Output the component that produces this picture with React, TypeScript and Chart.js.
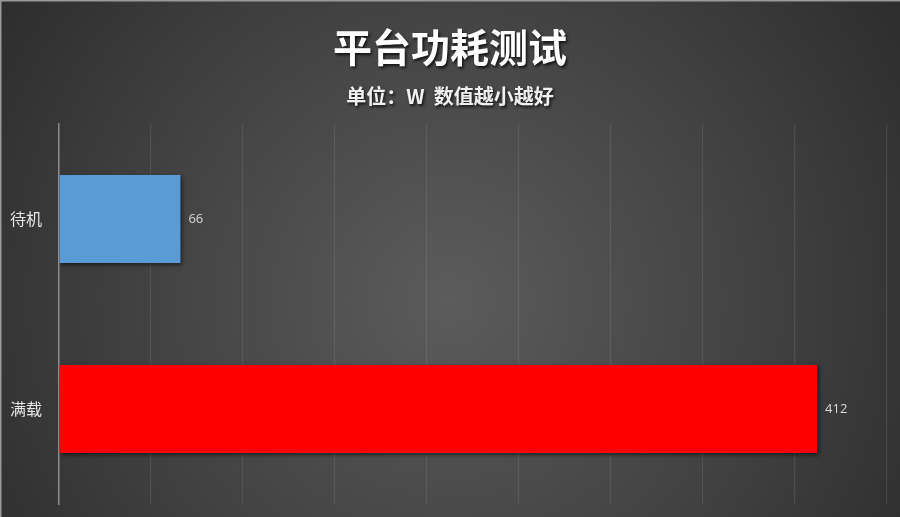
import React, { useEffect, useRef } from "react";
import { Chart, registerables } from "chart.js";

Chart.register(...registerables);

const TITLE = "平台功耗测试";
const SUBTITLE = "单位：W  数值越小越好";
const categories = ["待机", "满载"];
const values = [66, 412];
const barColors = ["#5B9BD5", "#FF0000"];
const xMin = 0;
const xMax = 450;
const xStep = 50;

const CJK = '"Noto Sans CJK SC", "Noto Sans", sans-serif';

export default function App() {
  const ref = useRef<HTMLCanvasElement | null>(null);

  useEffect(() => {
    document.body.style.margin = "0";
    const canvas = ref.current;
    if (!canvas) return;

    const bgPlugin = {
      id: "bgPlugin",
      beforeDraw(chart: any) {
        const { ctx, width, height } = chart;
        ctx.save();
        const g = ctx.createRadialGradient(450, 300, 0, 450, 300, 620);
        g.addColorStop(0, "#5c5c5c");
        g.addColorStop(0.55, "#3f3f3f");
        g.addColorStop(1, "#262626");
        ctx.fillStyle = g;
        ctx.fillRect(0, 0, width, height);
        ctx.fillStyle = "#9a9a9a";
        ctx.fillRect(0, 0, width, 1.5);
        ctx.fillRect(0, 0, 1.5, height);
        ctx.restore();
      },
      beforeDatasetsDraw(chart: any) {
        const ctx = chart.ctx;
        ctx.save();
        ctx.shadowColor = "rgba(0,0,0,0.55)";
        ctx.shadowBlur = 4;
        ctx.shadowOffsetX = 1.5;
        ctx.shadowOffsetY = 2;
      },
      afterDatasetsDraw(chart: any) {
        const ctx = chart.ctx;
        ctx.restore();
        ctx.save();
        const meta = chart.getDatasetMeta(0);
        ctx.fillStyle = "#d9d9d9";
        ctx.font = '13px "Open Sans", "Noto Sans", sans-serif';
        ctx.textAlign = "left";
        ctx.textBaseline = "middle";
        meta.data.forEach((bar: any, i: number) => {
          ctx.fillText(String(values[i]), bar.x + 8, bar.y);
        });
        ctx.restore();
      },
      afterDraw(chart: any) {
        const ctx = chart.ctx;
        const cx = chart.width / 2;
        ctx.save();
        ctx.textAlign = "center";
        ctx.textBaseline = "middle";
        ctx.shadowColor = "rgba(0,0,0,0.75)";
        ctx.shadowBlur = 3;
        ctx.shadowOffsetX = 1.5;
        ctx.shadowOffsetY = 2;
        ctx.fillStyle = "#ffffff";
        ctx.font = "bold 39px " + CJK;
        ctx.fillText(TITLE, cx, 47);
        ctx.fillStyle = "#f0f0f0";
        ctx.font = "bold 20px " + CJK;
        ctx.fillText(SUBTITLE, cx, 96);
        ctx.restore();
      },
    };

    const chart = new Chart(canvas, {
      type: "bar",
      data: {
        labels: categories,
        datasets: [
          {
            data: values,
            backgroundColor: barColors,
            borderWidth: 0,
            barPercentage: 0.463,
            categoryPercentage: 1,
          },
        ],
      },
      options: {
        indexAxis: "y",
        responsive: false,
        maintainAspectRatio: false,
        animation: false,
        layout: { padding: { top: 124, bottom: 13, right: 13, left: 0 } },
        plugins: {
          legend: { display: false },
          title: { display: false },
          tooltip: { enabled: false },
        },
        scales: {
          x: {
            display: true,
            min: xMin,
            max: xMax,
            ticks: { display: false, stepSize: xStep, padding: 0 },
            grid: { color: "rgba(255,255,255,0.09)", lineWidth: 1.2, drawTicks: false },
            border: { display: false },
            afterFit(scale: any) {
              scale.height = 0;
              scale.paddingTop = 0;
              scale.paddingBottom = 0;
            },
          },
          y: {
            afterFit(scale: any) {
              scale.width = 59;
              scale.paddingTop = 0;
              scale.paddingBottom = 0;
            },
            ticks: {
              color: "#e6e6e6",
              font: { family: CJK, size: 16 },
              padding: 17,
            },
            grid: { display: false, drawTicks: false },
            border: { display: true, color: "#8c8c8c", width: 1.5 },
          },
        },
      },
      plugins: [bgPlugin],
    });

    return () => chart.destroy();
  }, []);

  return (
    <div style={{ position: "absolute", left: 0, top: 0, width: 900, height: 517 }}>
      <canvas ref={ref} width={900} height={517} style={{ display: "block", width: 900, height: 517 }} />
    </div>
  );
}
